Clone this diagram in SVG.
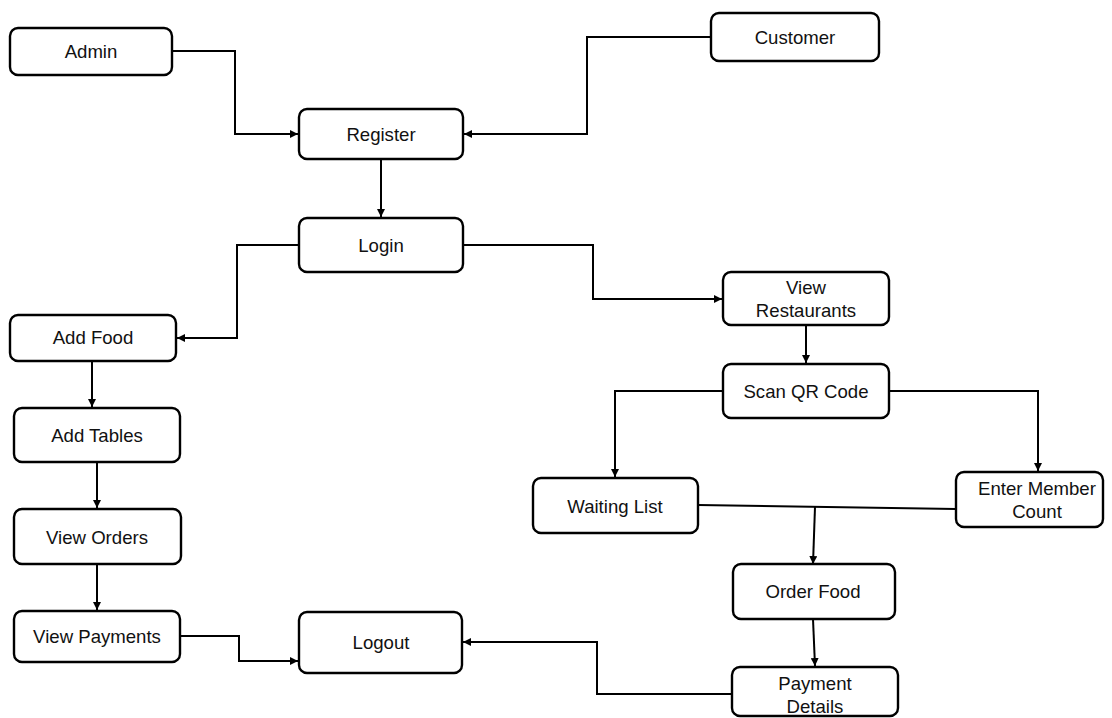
<svg xmlns="http://www.w3.org/2000/svg" width="1112" height="718" viewBox="0 0 1112 718">
<defs>
<marker id="arr" viewBox="0 0 10 10" refX="10" refY="5" markerWidth="8" markerHeight="8" markerUnits="userSpaceOnUse" orient="auto">
<path d="M0,0 L10,5 L0,10 Z" fill="#000"/>
</marker>
<style>
.box{fill:#fff;stroke:#000;stroke-width:2.4}
.lbl{font-family:"Liberation Sans",Arial,sans-serif;font-size:18.6px;fill:#111;text-anchor:middle}
.c{fill:none;stroke:#000;stroke-width:2}
.a{marker-end:url(#arr)}
</style>
</defs>
<rect width="1112" height="718" fill="#fff"/>
<g id="connectors">
<polyline class="c a" points="172,51 235,51 235,134 298,134"/>
<polyline class="c a" points="711,37 587,37 587,134 464,134"/>
<polyline class="c a" points="381,159 381,217"/>
<polyline class="c a" points="299,245 237,245 237,338 177,338"/>
<polyline class="c a" points="463,245 593,245 593,299 722,299"/>
<polyline class="c a" points="806,325 806,363"/>
<polyline class="c a" points="723,391 615,391 615,477"/>
<polyline class="c a" points="889,391 1038,391 1038,471"/>
<line class="c" x1="698" y1="505" x2="956" y2="509"/>
<polyline class="c a" points="815,507 813,564"/>
<polyline class="c a" points="813,619 815,666"/>
<polyline class="c a" points="732,694 597,694 597,642 463,642"/>
<polyline class="c a" points="180,636 239,636 239,661 298,661"/>
<polyline class="c a" points="92,361 92,407"/>
<polyline class="c a" points="97,462 97,508"/>
<polyline class="c a" points="97,564 97,610"/>
</g>
<g id="admin"><rect class="box" x="10" y="28" width="162" height="47" rx="8"/><text class="lbl" x="91" y="58">Admin</text></g>
<g id="customer"><rect class="box" x="711" y="13" width="168" height="48" rx="8"/><text class="lbl" x="795" y="44">Customer</text></g>
<g id="register"><rect class="box" x="299" y="109" width="164" height="50" rx="8"/><text class="lbl" x="381" y="141">Register</text></g>
<g id="login"><rect class="box" x="299" y="218" width="164" height="54" rx="8"/><text class="lbl" x="381" y="252">Login</text></g>
<g id="view-restaurants"><rect class="box" x="723" y="272" width="166" height="53" rx="8"/><text class="lbl" x="806" y="294">View</text><text class="lbl" x="806" y="317">Restaurants</text></g>
<g id="add-food"><rect class="box" x="10" y="315" width="166" height="46" rx="8"/><text class="lbl" x="93" y="344">Add Food</text></g>
<g id="add-tables"><rect class="box" x="14" y="408" width="166" height="54" rx="8"/><text class="lbl" x="97" y="442">Add Tables</text></g>
<g id="view-orders"><rect class="box" x="14" y="509" width="167" height="55" rx="8"/><text class="lbl" x="97" y="544">View Orders</text></g>
<g id="view-payments"><rect class="box" x="14" y="611" width="166" height="51" rx="8"/><text class="lbl" x="97" y="643">View Payments</text></g>
<g id="logout"><rect class="box" x="299" y="612" width="163" height="61" rx="8"/><text class="lbl" x="381" y="649">Logout</text></g>
<g id="scan-qr"><rect class="box" x="723" y="364" width="166" height="54" rx="8"/><text class="lbl" x="806" y="398">Scan QR Code</text></g>
<g id="waiting-list"><rect class="box" x="533" y="478" width="165" height="55" rx="8"/><text class="lbl" x="615" y="513">Waiting List</text></g>
<g id="enter-member-count"><rect class="box" x="956" y="472" width="147" height="55" rx="8"/><text class="lbl" x="1037" y="495">Enter Member</text><text class="lbl" x="1037" y="518">Count</text></g>
<g id="order-food"><rect class="box" x="733" y="564" width="162" height="55" rx="8"/><text class="lbl" x="813" y="598">Order Food</text></g>
<g id="payment-details"><rect class="box" x="732" y="667" width="166" height="49" rx="8"/><text class="lbl" x="815" y="690">Payment</text><text class="lbl" x="815" y="713">Details</text></g>
</svg>
